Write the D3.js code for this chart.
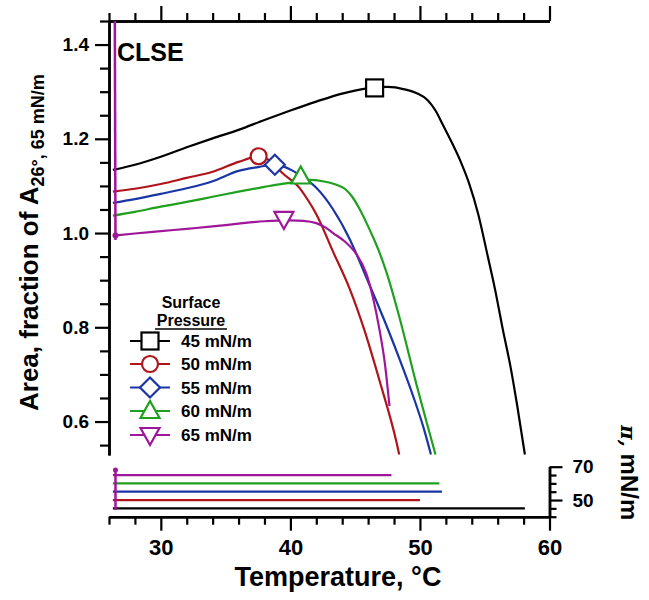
<!DOCTYPE html>
<html><head><meta charset="utf-8">
<script src="https://cdn.jsdelivr.net/npm/d3@7"></script>
<style>body{margin:0;background:#fff}svg{display:block}</style>
</head><body>
<script>
// ---------- DATA ----------
const pressures = [45, 50, 55, 60, 65];
const legendLabels = ["45 mN/m", "50 mN/m", "55 mN/m", "60 mN/m", "65 mN/m"];
const curve45 = [[26.3,1.134],[28,1.145],[30,1.162],[32,1.182],[34,1.201],[36,1.219],[38,1.24],[40,1.26],[42,1.279],[44,1.296],[46,1.307],[47.5,1.31],[48.8,1.305],[49.8,1.296],[50.6,1.282],[51.2,1.26],[51.8,1.228],[52.5,1.19],[53.2,1.148],[53.8,1.105],[54.5,1.04],[55.2,0.955],[55.8,0.88],[56.4,0.795],[57,0.715],[57.5,0.635],[58.1,0.53]];
const curve50 = [[26.3,1.088],[28,1.094],[30,1.104],[32,1.117],[34,1.13],[36,1.151],[37.5,1.162],[38.5,1.152],[39.4,1.127],[40.7,1.096],[41.4,1.068],[42,1.04],[43.3,0.96],[44.6,0.88],[45.7,0.795],[46.9,0.685],[48.2,0.555],[48.4,0.53]];
const curve55 = [[26.3,1.064],[28,1.072],[30,1.083],[32,1.095],[34,1.11],[36,1.132],[37.5,1.14],[38.8,1.145],[40.2,1.132],[41,1.118],[42,1.096],[43.3,1.05],[44.6,0.986],[45.8,0.91],[46.6,0.858],[47.5,0.798],[48.5,0.727],[49.5,0.652],[50.3,0.585],[50.85,0.53]];
const curve60 = [[26.3,1.037],[28,1.045],[30,1.056],[32,1.066],[34,1.077],[36,1.088],[38,1.098],[39.5,1.105],[40.8,1.11],[41.5,1.113],[42.5,1.11],[43.5,1.103],[44.2,1.094],[44.8,1.076],[45.3,1.053],[45.9,1.02],[46.4,0.99],[46.9,0.957],[47.4,0.918],[48.4,0.823],[49.7,0.682],[50.5,0.6],[51.2,0.53]];
const curve65 = [[26.5,0.995],[28,0.999],[30,1.004],[32,1.009],[34,1.014],[36,1.02],[38,1.025],[40,1.027],[41,1.026],[42,1.021],[42.7,1.012],[43.3,1.0],[44.2,0.982],[45.1,0.955],[45.85,0.915],[46.35,0.866],[46.87,0.796],[47.3,0.722],[47.65,0.633]];
const spikeArea65 = [[26.45,1.45],[26.5,0.985]];
const markerPts = [[46.5,1.308],[37.55,1.163],[38.8,1.145],[40.8,1.12],[39.5,1.03]];
const pressureStart = [26.3, 26.3, 26.3, 26.3, 26.3];
const pressureEnd = [58.1, 50.0, 51.7, 51.5, 47.8];
const spikePressure65 = [[26.5,68],[26.5,44]];
const xMajorTicks = [30, 40, 50, 60];
const yMajorTicks = [0.6, 0.8, 1.0, 1.2, 1.4];
const pMajorTicks = [50, 70];
const pMinorTicks = [40, 45, 55, 60, 65];

// ---------- STYLE ----------
const colors = ["#000000", "#b0141a", "#1a35a5", "#1fa01f", "#a0169a"];
const shapes = ["square", "circle", "diamond", "triUp", "triDown"];
const FONT = "'Liberation Sans', Arial, Helvetica, sans-serif";

const W = 649, H = 600;
const svg = d3.select("body").append("svg").attr("width", W).attr("height", H);
svg.append("rect").attr("width", W).attr("height", H).attr("fill", "#fff");

const x = d3.scaleLinear().domain([26, 60]).range([109, 549.5]);
const y = d3.scaleLinear().domain([0.529, 1.45]).range([455, 21]);
const p = d3.scaleLinear().domain([40, 70]).range([516.7, 466.7]);

function styleAxis(g, size) {
  g.attr("font-family", FONT).attr("font-weight", "bold").attr("font-size", size);
  g.select(".domain").attr("stroke-width", 2.5).attr("stroke", "#000");
  g.selectAll(".tick line").attr("stroke-width", 2.2).attr("stroke", "#000");
  g.selectAll(".tick text").attr("fill", "#000");
}

svg.append("clipPath").attr("id", "clipTop").append("rect")
  .attr("x", x(26)).attr("y", y(1.45)).attr("width", x(60) - x(26)).attr("height", y(0.529) - y(1.45));

// Top axis (no labels)
const minorX = d3.range(26, 61, 2);
svg.append("g").attr("transform", `translate(0,${y(1.45)})`)
  .call(d3.axisTop(x).tickValues(minorX.filter(v => !xMajorTicks.includes(v))).tickSize(8).tickSizeOuter(0).tickFormat(""))
  .call(g => styleAxis(g, 19));
svg.append("g").attr("transform", `translate(0,${y(1.45)})`)
  .call(d3.axisTop(x).tickValues(xMajorTicks).tickSize(15).tickSizeOuter(0).tickFormat(""))
  .call(g => styleAxis(g, 19));

// Left axis
const minorY = d3.range(11, 30).map(i => +(i * 0.05).toFixed(2)).filter(v => !yMajorTicks.some(m => Math.abs(m - v) < 1e-6));
svg.append("g").attr("transform", `translate(${x(26)},0)`)
  .call(d3.axisLeft(y).tickValues(minorY).tickSize(9).tickSizeOuter(0).tickFormat(""))
  .call(g => styleAxis(g, 19));
svg.append("g").attr("transform", `translate(${x(26)},0)`)
  .call(d3.axisLeft(y).tickValues(yMajorTicks).tickSize(14).tickSizeOuter(0).tickPadding(6).tickFormat(d3.format(".1f")))
  .call(g => styleAxis(g, 19));

// Bottom axis (pressure panel)
svg.append("g").attr("transform", `translate(0,${p(40)})`)
  .call(d3.axisBottom(x).tickValues(minorX.filter(v => !xMajorTicks.includes(v))).tickSize(8).tickSizeOuter(0).tickFormat(""))
  .call(g => styleAxis(g, 22));
svg.append("g").attr("transform", `translate(0,${p(40)})`)
  .call(d3.axisBottom(x).tickValues(xMajorTicks).tickSize(14).tickSizeOuter(0).tickPadding(9).tickFormat(d3.format("d")))
  .call(g => styleAxis(g, 22));

// Right axis (pressure)
svg.append("g").attr("transform", `translate(${x(60)},0)`)
  .call(d3.axisRight(p).tickValues(pMinorTicks).tickSize(7).tickSizeOuter(0).tickFormat(""))
  .call(g => styleAxis(g, 19));
svg.append("g").attr("transform", `translate(${x(60)},0)`)
  .call(d3.axisRight(p).tickValues(pMajorTicks).tickSize(13).tickSizeOuter(0).tickPadding(10).tickFormat(d3.format("d")))
  .call(g => styleAxis(g, 19));

// Curves
const line = d3.line().x(d => x(d[0])).y(d => y(d[1])).curve(d3.curveMonotoneX);
const curves = [curve45, curve50, curve55, curve60, curve65];
const plot = svg.append("g").attr("clip-path", "url(#clipTop)");
curves.forEach((c, i) => {
  plot.append("path").datum(c).attr("d", line).attr("fill", "none")
    .attr("stroke", colors[i]).attr("stroke-width", 2.2).attr("stroke-linejoin", "round");
});
const straight = d3.line().x(d => x(d[0])).y(d => y(d[1]));
plot.append("path").datum(spikeArea65).attr("d", straight).attr("fill", "none")
  .attr("stroke", colors[4]).attr("stroke-width", 2.5);
plot.append("circle").attr("cx", x(26.5)).attr("cy", y(0.995)).attr("r", 3).attr("fill", colors[4]);

// Markers
function drawMarker(g, shape, cx, cy, color) {
  const s = 8.5;
  let el;
  if (shape === "square") el = g.append("rect").attr("x", cx - s).attr("y", cy - s).attr("width", 2 * s).attr("height", 2 * s);
  else if (shape === "circle") el = g.append("circle").attr("cx", cx).attr("cy", cy).attr("r", 8);
  else if (shape === "diamond") el = g.append("path").attr("d", `M${cx},${cy - 10}L${cx + 10},${cy}L${cx},${cy + 10}L${cx - 10},${cy}Z`);
  else if (shape === "triUp") el = g.append("path").attr("d", `M${cx},${cy - 10}L${cx + 9.5},${cy + 7}L${cx - 9.5},${cy + 7}Z`);
  else el = g.append("path").attr("d", `M${cx},${cy + 10}L${cx + 9.5},${cy - 7}L${cx - 9.5},${cy - 7}Z`);
  el.attr("fill", "#fff").attr("stroke", color).attr("stroke-width", 2.2);
}
markerPts.forEach((m, i) => drawMarker(svg, shapes[i], x(m[0]), y(m[1]), colors[i]));

// Pressure lines
const pline = d3.line().x(d => x(d[0])).y(d => p(d[1]));
pressures.forEach((pr, i) => {
  svg.append("path").datum([[pressureStart[i], pr], [pressureEnd[i], pr]]).attr("d", pline)
    .attr("fill", "none").attr("stroke", colors[i]).attr("stroke-width", 2.2);
});
svg.append("path").datum(spikePressure65).attr("d", pline).attr("fill", "none")
  .attr("stroke", colors[4]).attr("stroke-width", 2.5);
svg.append("circle").attr("cx", x(26.5)).attr("cy", p(68)).attr("r", 2.5).attr("fill", colors[4]);

// CLSE label
svg.append("text").attr("x", 117).attr("y", 61).attr("font-family", FONT).attr("font-weight", "bold")
  .attr("font-size", 25).text("CLSE");

// Legend
const lg = svg.append("g").attr("font-family", FONT).attr("font-weight", "bold");
lg.append("text").attr("x", 191).attr("y", 308).attr("text-anchor", "middle").attr("font-size", 16).text("Surface");
lg.append("text").attr("x", 191).attr("y", 326).attr("text-anchor", "middle").attr("font-size", 16).text("Pressure");
lg.append("line").attr("x1", 155).attr("x2", 227).attr("y1", 329).attr("y2", 329).attr("stroke", "#000").attr("stroke-width", 1.6);
const rowY = [341, 364, 387.5, 411, 435];
legendLabels.forEach((lab, i) => {
  lg.append("line").attr("x1", 130).attr("x2", 170).attr("y1", rowY[i]).attr("y2", rowY[i])
    .attr("stroke", colors[i]).attr("stroke-width", 2.2);
  drawMarker(lg, shapes[i], 150, rowY[i], colors[i]);
  lg.append("text").attr("x", 181).attr("y", rowY[i] + 6).attr("font-size", 17).text(lab);
});

// Axis titles
svg.append("text").attr("x", 338).attr("y", 586).attr("text-anchor", "middle")
  .attr("font-family", FONT).attr("font-weight", "bold").attr("font-size", 27).text("Temperature, °C");

const yl = svg.append("text").attr("transform", "translate(38,411) rotate(-90)")
  .attr("font-family", FONT).attr("font-weight", "bold").attr("font-size", 26);
yl.append("tspan").text("Area, fraction of A");
yl.append("tspan").attr("font-size", 18).attr("dy", 6).text("26°, 65 mN/m");

const pl = svg.append("text").attr("transform", "translate(621,425) rotate(90)")
  .attr("font-weight", "bold").attr("font-size", 24);
pl.append("tspan").attr("font-family", "'DejaVu Serif', serif").attr("font-style", "italic").attr("font-size", 20).text("π, ");
pl.append("tspan").attr("font-family", FONT).text("mN/m");
</script>
</body></html>
